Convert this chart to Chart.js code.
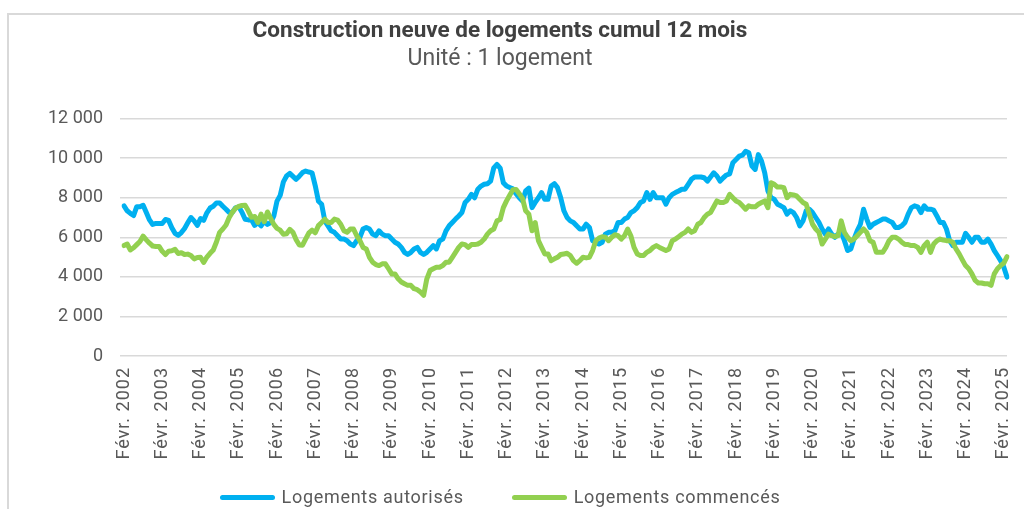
<!DOCTYPE html>
<html>
<head>
  <meta charset="utf-8">
  <title>Construction neuve de logements cumul 12 mois</title>
  <script src="https://cdn.jsdelivr.net/npm/chart.js"></script>
  <style>
    html, body {
      margin: 0;
      padding: 0;
      background: #fff;
      overflow: hidden;
      font-family: Roboto, sans-serif;
    }
    .frame {
      position: absolute;
      left: 7px;
      top: 13px;
      width: 1100px;
      height: 600px;
      border: 2px solid #d9d9d9;
    }
    #chart {
      position: absolute;
      left: 0;
      top: 0;
    }
    /* legend below the chart, built from the datasets */
    #legend {
      position: absolute;
      left: 0;
      top: 486px;
      width: 1000px;
      display: flex;
      justify-content: center;
      gap: 48px;
      font-size: 18px;
      letter-spacing: 0.7px;
      color: #595959;
      line-height: 22px;
    }
    #legend .item {
      display: flex;
      align-items: center;
    }
    #legend .swatch {
      display: inline-block;
      width: 55px;
      height: 5px;
      border-radius: 3px;
      margin-right: 7px;
    }
  </style>
</head>
<body>
  <div class="frame"></div>
  <canvas id="chart" width="1024" height="509"></canvas>
  <div id="legend"></div>

  <script>
    // Monthly series, Févr. 2002 -> Mars 2025 (12-month rolling totals)
    const startYear = 2002;
    const startMonth = 1; // 0 = janvier, 1 = février
    const monthNames = ["Janv.", "Févr.", "Mars", "Avr.", "Mai", "Juin",
                        "Juil.", "Août", "Sept.", "Oct.", "Nov.", "Déc."];

    const autorises = [
      7590, 7340, 7210, 7100, 7550, 7540, 7620, 7250, 6880, 6650,
      6700, 6700, 6700, 6900, 6850, 6480, 6200, 6100, 6240, 6450,
      6730, 7000, 6830, 6600, 6950, 6860, 7240, 7480, 7570, 7740,
      7740, 7570, 7420, 7250, 7270, 7490, 7540, 7270, 6910, 6880,
      6890, 6600, 6750, 6580, 6810, 6650, 6740, 7080, 7830, 8120,
      8800, 9100, 9230, 9080, 8930, 9090, 9270, 9350, 9300, 9260,
      8600, 7820, 7670, 6830, 6580, 6330, 6250, 6080, 5910, 5910,
      5830, 5660, 5580, 5830, 6000, 6420, 6500, 6420, 6160, 6080,
      6330, 6160, 6080, 6080, 5910, 5750, 5660, 5490, 5240, 5130,
      5240, 5410, 5490, 5240, 5130, 5240, 5410, 5580, 5410, 5830,
      5910, 6330, 6580, 6750, 6920, 7080, 7250, 7760, 7920, 8170,
      8000, 8430, 8590, 8680, 8710, 8840, 9510, 9680, 9500, 8760,
      8590, 8520, 8450, 8200, 8000, 7840, 8340, 8480, 7500, 7760,
      8000, 8260, 7920, 7920, 8590, 8710, 8510, 8000, 7340, 7000,
      6830, 6750, 6580, 6420, 6420, 6660, 6500, 5830, 5750, 5660,
      5750, 6160, 6250, 6250, 6330, 6750, 6750, 6920, 7000, 7250,
      7340, 7500, 7760, 7840, 8260, 7920, 8260, 8000, 8000, 8000,
      7670, 8000, 8170, 8260, 8340, 8430, 8430, 8680, 8930, 9050,
      9050, 9050, 9010, 8840, 9050, 9260, 9100, 8840, 9010, 9150,
      9210, 9770, 9930, 10100, 10150, 10350, 10270, 9600, 9430, 10180,
      9850, 9260, 8340, 8000, 7920, 7670, 7590, 7500, 7170, 7340,
      7250, 7000, 6580, 6830, 7340, 7420, 7250, 7000, 6750, 6420,
      6160, 6420, 6160, 6000, 6160, 6250, 5830, 5330, 5410, 5910,
      6330, 6660, 7420, 6920, 6500, 6660, 6750, 6830, 6920, 6920,
      6830, 6750, 6500, 6500, 6580, 6750, 7170, 7500, 7590, 7540,
      7250, 7590, 7420, 7420, 7370, 7080, 6750, 6750, 6420, 5830,
      5580, 5750, 5750, 5750, 6200, 6000, 5750, 6000, 6000, 5750,
      5750, 5910, 5660, 5330, 5080, 4820, 4490, 3990
    ];

    const commences = [
      5580, 5660, 5360, 5470, 5630, 5790, 6060, 5870, 5700, 5560,
      5540, 5540, 5290, 5130, 5300, 5320, 5390, 5180, 5220, 5130,
      5150, 5080, 4910, 4980, 4990, 4730, 5000, 5190, 5360, 5760,
      6250, 6420, 6620, 7000, 7270, 7470, 7560, 7610, 7620, 7340,
      7010, 7050, 6750, 7170, 6790, 7280, 6960, 6650, 6450, 6360,
      6150, 6180, 6400, 6250, 5880, 5610, 5600, 5920, 6220, 6360,
      6230, 6590, 6750, 6920, 6750, 6750, 6920, 6870, 6660, 6330,
      6250, 6420, 6420, 6080, 5830, 5490, 5410, 4990, 4740, 4620,
      4570, 4660, 4660, 4410, 4150, 4150, 3900, 3740, 3650, 3570,
      3570, 3400, 3350, 3230, 3070, 3900, 4320, 4410, 4490, 4490,
      4570, 4740, 4740, 4990, 5240, 5490, 5660, 5630, 5490, 5630,
      5630, 5660, 5750, 5910, 6160, 6330, 6420, 6830, 6900, 7500,
      7840, 8130, 8410, 8420, 8200, 7970, 7340, 7170, 6330, 6750,
      5830, 5490, 5160, 5160, 4820, 4910, 4990, 5130, 5160, 5190,
      5080, 4820, 4690, 4820, 4990, 4960, 4990, 5330, 5830, 5960,
      6030, 6000, 5830, 6000, 6130, 6080, 5910, 6080, 6420, 6080,
      5490, 5160, 5080, 5080, 5240, 5330, 5490, 5580, 5490, 5410,
      5330, 5410, 5830, 5910, 6030, 6160, 6250, 6420, 6250, 6330,
      6660, 6750, 7000, 7170, 7250, 7540, 7840, 7760, 7760, 7840,
      8170, 8000, 7840, 7760, 7590, 7420, 7590, 7540, 7540, 7670,
      7760, 7840, 7500, 8760, 8680, 8540, 8540, 8510, 8000, 8170,
      8140, 8090, 7920, 7760, 7670, 7170, 6660, 6420, 6250, 5660,
      5910, 6160, 6080, 6030, 6080, 6830, 6250, 6000, 5830, 5910,
      6080, 6250, 6420, 6250, 5830, 5750, 5240, 5240, 5240, 5490,
      5830, 6000, 6000, 5910, 5750, 5630, 5630, 5580, 5580, 5490,
      5240, 5580, 5750, 5240, 5660, 5830, 5910, 5860, 5830, 5830,
      5750, 5410, 5160, 4860, 4570, 4410, 4150, 3820, 3690, 3690,
      3650, 3650, 3570, 4150, 4410, 4570, 4690, 5020
    ];

    // category labels, one per month
    const labels = autorises.map((v, i) => {
      const m = startMonth + i;
      return monthNames[m % 12] + " " + (startYear + Math.floor(m / 12));
    });

    const yMax = 12000;
    const yStep = 2000;

    function formatThousands(v) {
      return String(v).replace(/\B(?=(\d{3})+(?!\d))/g, " ");
    }

    // x tick labels sit on layer z=1 (after the lines); give them
    // the slightly spaced-out look of the original
    const tickSpacing = {
      id: 'tickSpacing',
      afterDatasetsDraw(chart) {
        chart.ctx.letterSpacing = '1px';
      },
      afterDraw(chart) {
        chart.ctx.letterSpacing = '0px';
      }
    };

    Chart.defaults.font.family = "Roboto";
    Chart.defaults.color = "#595959";

    const ctx = document.getElementById('chart').getContext('2d');
    const chart = new Chart(ctx, {
      type: 'line',
      data: {
        labels: labels,
        // green listed first so it is drawn over the blue line
        datasets: [
          {
            label: 'Logements commencés',
            data: commences,
            borderColor: '#92D050',
            backgroundColor: '#92D050',
            borderWidth: 5,
            pointRadius: 0,
            tension: 0,
            borderJoinStyle: 'round',
            borderCapStyle: 'round'
          },
          {
            label: 'Logements autorisés',
            data: autorises,
            borderColor: '#00B0F0',
            backgroundColor: '#00B0F0',
            borderWidth: 5,
            pointRadius: 0,
            tension: 0,
            borderJoinStyle: 'round',
            borderCapStyle: 'round'
          }
        ]
      },
      plugins: [tickSpacing],
      options: {
        responsive: false,
        animation: false,
        layout: {
          // left -7 / right 17 keeps the titles centred on x=500
          padding: { left: -7, right: 17, top: 0, bottom: 0 }
        },
        plugins: {
          title: {
            display: true,
            text: 'Construction neuve de logements cumul 12 mois',
            color: '#404040',
            font: { size: 22.5, weight: 'bold' },
            padding: { top: 18, bottom: 0 }
          },
          subtitle: {
            display: true,
            text: 'Unité : 1 logement',
            color: '#595959',
            font: { size: 23, weight: 'normal' },
            padding: { top: 0, bottom: 46 }
          },
          legend: { display: false },
          tooltip: { enabled: false }
        },
        scales: {
          x: {
            grid: { display: false, drawTicks: false },
            border: { display: false },
            ticks: {
              autoSkip: false,
              minRotation: 90,
              maxRotation: 90,
              padding: 11,
              z: 1,
              font: { size: 18 },
              color: '#595959',
              callback: function(value, index) {
                return index % 12 === 0 ? labels[index] : '';
              }
            },
            afterFit: function(scale) {
              scale.height = 153;
              scale.paddingRight = 0;
            }
          },
          y: {
            min: 0,
            max: yMax,
            border: { display: false },
            grid: {
              color: '#d9d9d9',
              lineWidth: 1.5,
              tickLength: 4
            },
            ticks: {
              stepSize: yStep,
              padding: 17,
              font: { size: 18 },
              color: '#595959',
              callback: function(value) {
                return formatThousands(value);
              }
            },
            afterFit: function(scale) {
              scale.width = 131;
            }
          }
        }
      }
    });

    // legend in the original order: autorisés, then commencés
    const legendBox = document.getElementById('legend');
    chart.data.datasets.slice().reverse().forEach(ds => {
      const item = document.createElement('span');
      item.className = 'item';
      const sw = document.createElement('span');
      sw.className = 'swatch';
      sw.style.background = ds.borderColor;
      item.appendChild(sw);
      item.appendChild(document.createTextNode(ds.label));
      legendBox.appendChild(item);
    });
  </script>
</body>
</html>
